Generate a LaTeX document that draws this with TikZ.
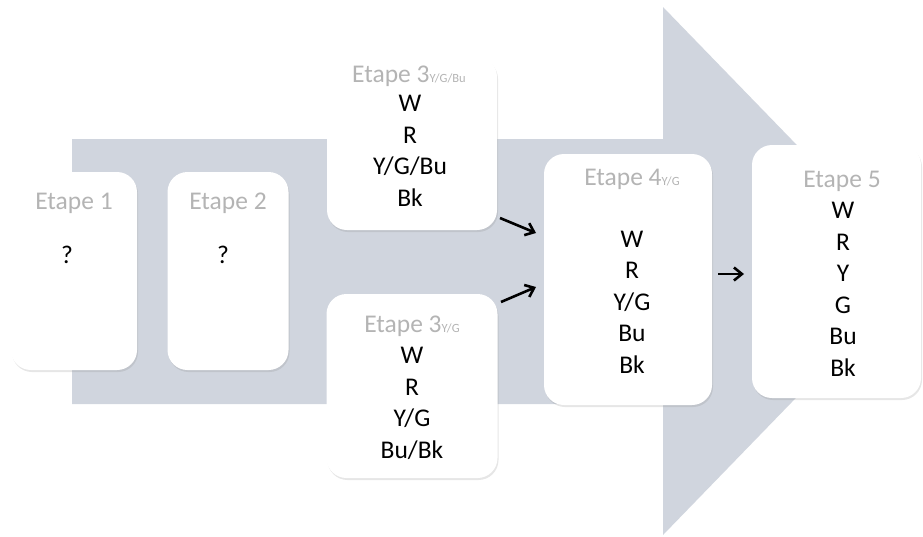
\documentclass[tikz,border=0pt]{standalone}
\usepackage{fontspec}
\setmainfont{Carlito}
\usetikzlibrary{shadows,arrows.meta}
\definecolor{flowgray}{RGB}{208,213,222}
\definecolor{titlegray}{RGB}{180,180,180}

\begin{document}
\begin{tikzpicture}[x=1pt,y=-1pt,
    etape/.style={fill=white,rounded corners=20pt,inner sep=0pt,
      drop shadow={opacity=0.2,shadow xshift=1pt,shadow yshift=-2pt}},
    titre/.style={anchor=base,text=titlegray,font=\fontsize{25.5}{30}\selectfont},
    liste/.style={anchor=base,align=center,font=\fontsize{25.5}{31.5}\selectfont},
    fleche/.style={-{Straight Barb[length=8pt,width=13pt]},line width=2.6pt}]
        \useasboundingbox (0,0) rectangle (923,536);

        % Draw the big arrow
        \fill[flowgray] (72,139) -- (663,139) -- (663,7) -- (919,271) -- (663,535) -- (663,404) -- (72,404) -- cycle;

        % Draw the boxes
        \node[etape,minimum width=126pt,minimum height=198pt] (e1) at (74,271) {};
        \node[etape,minimum width=121pt,minimum height=198pt] (e2) at (228,271) {};
        \node[etape,minimum width=170pt,minimum height=173pt] (e3a) at (412,143.5) {};
        \node[etape,minimum width=171pt,minimum height=184pt] (e3b) at (412,386) {};
        \node[etape,minimum width=168pt,minimum height=251pt] (e4) at (628,279.5) {};
        \node[etape,minimum width=169pt,minimum height=253pt] (e5) at (836.5,271.5) {};

        % Titles
        \node[titre] (t1) at (74,209) {Etape 1};
        \node[titre] (t2) at (228,209) {Etape 2};
        \node[titre] (t3a) at (409,82) {Etape 3{\fontsize{12.5}{13}\selectfont Y/G/Bu}};
        \node[titre] (t3b) at (412,332) {Etape 3{\fontsize{12.5}{13}\selectfont Y/G}};
        \node[titre] (t4) at (632,185) {Etape 4{\fontsize{12.5}{13}\selectfont Y/G}};
        \node[titre] (t5) at (842,187) {Etape 5};

        % Contents (base = last line)
        \node[liste] (l1) at (67,263) {?};
        \node[liste] (l2) at (223,263) {?};
        \node[liste] (l3a) at (410,206) {W\\R\\Y/G/Bu\\Bk};
        \node[liste] (l3b) at (412,458) {W\\R\\Y/G\\Bu/Bk};
        \node[liste] (l4) at (632,373) {W\\R\\Y/G\\Bu\\Bk};
        \node[liste] (l5) at (843,376) {W\\R\\Y\\G\\Bu\\Bk};

        % Draw the small arrows
        \coordinate (a1) at (500,218);
        \coordinate (b1) at (536,233);
        \coordinate (a2) at (501,302);
        \coordinate (b2) at (536,287);
        \coordinate (a3) at (718,274);
        \coordinate (b3) at (744,274);
        \draw[fleche] (a1) -- (b1);
        \draw[fleche] (a2) -- (b2);
        \draw[fleche] (a3) -- (b3);
    \end{tikzpicture}
\end{document}
